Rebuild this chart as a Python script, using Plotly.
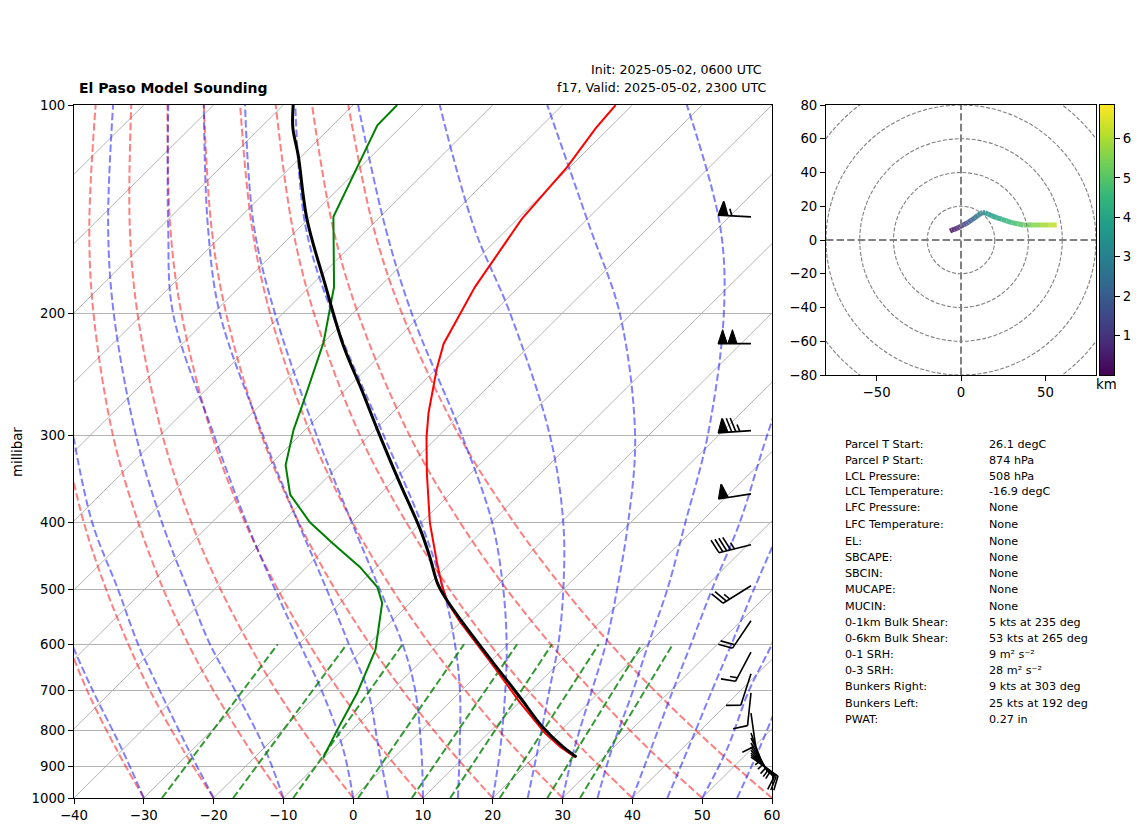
import math
import plotly.graph_objects as go
from plotly.colors import sample_colorscale

# page body margin of the browser
PAD = 8
W = 1142 - PAD
H = 832 - PAD

# ---- sounding, pressure in hPa, temperature in degC
temp_p = [873, 844, 806, 727, 636, 557, 523, 493, 458, 401, 340, 302, 278, 259, 240, 221, 183, 146, 133, 123, 108, 100]
temp_t = [25.9, 22.3, 18.1, 10.0, 0.0, -10.1, -14.6, -18.0, -21.9, -28.7, -36.3, -41.5, -44.8, -47.3, -50.0, -52.6, -56.3, -59.4, -60.0, -60.4, -61.9, -62.4]
dewp_p = [875, 798, 705, 611, 523, 496, 464, 429, 400, 365, 331, 294, 269, 220, 183, 145, 126, 107, 100]
dewp_t = [-10.1, -12.1, -14.6, -18.2, -24.0, -27.0, -32.4, -39.7, -46.0, -52.8, -57.7, -61.7, -64.2, -70.0, -76.5, -86.7, -89.9, -93.6, -93.7]
parcel_p = [873, 844, 790, 715, 636, 557, 514, 490, 449, 410, 351, 294, 258, 222, 180, 146, 118, 108, 100]
parcel_t = [26.1, 22.7, 16.9, 9.3, 0.3, -9.8, -15.7, -18.9, -23.8, -29.1, -38.8, -49.7, -57.6, -66.8, -78.6, -90.2, -100.7, -105.3, -108.6]

# ---- background lines
isotherms = [-140, -130, -120, -110, -100, -90, -80, -70, -60, -50, -40, -30, -20, -10, 0, 10, 20, 30, 40, 50, 60]
guide_levels = [1000, 850, 700, 600, 500, 400, 300, 200, 150, 100]
dry_adiabats = [
    [-30, -41.0, -53.6, -63.0],
    [-20, -31.5, -44.6, -54.4, -65.5, -78.4, -93.8],
    [-10, -21.9, -35.5, -45.8, -57.3, -70.6, -86.7, -107.1, -120.2, -136.9],
    [0, -12.4, -26.5, -37.1, -49.1, -63.0, -79.6, -100.8, -114.4, -131.8],
    [10, -2.9, -17.5, -28.5, -40.9, -55.3, -72.5, -94.5, -108.6, -126.6],
    [20, 6.7, -8.4, -19.8, -32.7, -47.6, -65.4, -88.1, -102.7, -121.4],
    [30, 16.2, 0.6, -11.2, -24.5, -39.9, -58.3, -81.8, -96.9, -116.2],
    [40, 25.8, 9.6, -2.6, -16.3, -32.2, -51.3, -75.5, -91.1, -111.1],
    [50, 35.3, 18.7, 6.1, -8.1, -24.5, -44.2, -69.2, -85.3, -105.9],
    [60, 44.9, 27.7, 14.7, 0.1, -16.8, -37.1, -62.9, -79.5, -100.7],
]
moist_adiabats = [
    [-30, -40.2, -52.8, -62.5],
    [-20, -30.7, -43.2, -53.0, -63.8, -77.2, -92.4],
    [-10, -19.7, -32.4, -42.7, -53.8, -67.2, -83.4, -104.2, -117.5, -134.4],
    [0, -8.5, -20.0, -29.8, -41.3, -55.1, -72.2, -95.7, -108.9, -126.5],
    [5, -3.4, -13.4, -22.8, -33.9, -47.7, -65.2, -89.0, -103.2, -121.4],
    [10, 2.7, -6.6, -15.1, -26.3, -40.0, -57.5, -81.1, -96.6, -115.5],
    [15, 8.2, -0.2, -7.6, -17.2, -30.1, -47.9, -72.9, -89.2, -108.3],
    [20, 14.0, 6.3, -0.2, -8.6, -19.9, -36.7, -61.5, -77.8, -99.3],
    [25, 19.4, 12.6, 7.2, 0.0, -9.7, -24.1, -47.4, -65.1, -87.6],
    [30, 24.6, 18.7, 14.0, 7.7, -0.4, -11.9, -31.7, -48.5, -72.2],
    [35, 30.0, 24.6, 20.1, 14.9, 7.8, -1.5, -16.8, -29.8, -52.2],
    [40, 35.6, 30.3, 26.2, 21.3, 15.6, 7.0, -4.5],
    [45, 40.9, 35.9, 32.0, 27.3, 21.8],
    [50, 46.5, 41.2, 37.8, 33.2],
    [55, 51.1, 46.1],
]
mixing_bottom = [-27.4, -17.2, -8.6, 0.7, 8.4, 13.9, 21.0, 27.8, 32.5]
mixing_top = [-33.0, -23.1, -15.1, -6.3, 1.3, 6.3, 13.0, 19.2, 23.6]

# ---- wind barbs
barb_p = [145, 221, 295, 364, 431, 494, 555, 616, 662, 705, 754, 806, 819, 833, 844, 853, 861, 867, 873]
barb_speed = [65, 100, 85, 60, 45, 25, 20, 15, 10, 10, 10, 5, 5, 5, 5, 5, 10, 10, 15]
barb_dir = [273, 270, 266, 261, 256, 238, 214, 208, 198, 186, 172, 160, 155, 150, 145, 140, 135, 130, 125]

# ---- hodograph
hodo_u = [-6.5, -5.5, -4, -2.6, -1, 0, 1.5, 3, 4.3, 6, 8.3, 10, 11.7, 13, 14.2, 16, 18.2, 21, 24.1, 27, 30, 33.5, 37, 42, 46.8, 52, 56.7]
hodo_v = [5.3, 5.8, 6.3, 6.9, 7.6, 8.3, 9, 9.7, 10.5, 11.7, 13.2, 14.6, 15.8, 16.3, 16.2, 15.4, 14.4, 13.3, 12.3, 11.3, 10.3, 9.6, 8.9, 8.9, 8.9, 8.9, 8.9]
hodo_z = [0.1, 0.3, 0.5, 0.7, 0.9, 1.1, 1.3, 1.6, 1.9, 2.2, 2.5, 2.8, 3.1, 3.3, 3.5, 3.7, 3.9, 4.1, 4.4, 4.6, 4.8, 5.0, 5.3, 5.6, 5.9, 6.2, 6.6]
hodo_rings = [20, 40, 60, 80, 100]
hodo_zmax = 6.85

# ---- text block
table_labels = ["Parcel T Start:", "Parcel P Start:", "LCL Pressure:", "LCL Temperature:", "LFC Pressure:",
                "LFC Temperature:", "EL:", "SBCAPE:", "SBCIN:", "MUCAPE:", "MUCIN:", "0-1km Bulk Shear:",
                "0-6km Bulk Shear:", "0-1 SRH:", "0-3 SRH:", "Bunkers Right:", "Bunkers Left:", "PWAT:"]
table_values = ["26.1 degC", "874 hPa", "508 hPa", "-16.9 degC", "None", "None", "None", "None", "None", "None",
                "None", "5 kts at 235 deg", "53 kts at 265 deg", "9 m\u00b2 s\u207b\u00b2",
                "28 m\u00b2 s\u207b\u00b2", "9 kts at 303 deg", "25 kts at 192 deg", "0.27 in"]
table_rows = [444, 460, 476, 492, 508, 524, 541, 557, 573, 589, 606, 622, 638, 654, 670, 686, 703, 719]

FONT = "DejaVu Sans"


def px(x):
    return (x - PAD) / W


def py(y):
    return 1 - (y - PAD) / H


def skew(t, p):
    return t + 100 * math.log10(1000 / p)


def skew_line(temps, levels):
    return [skew(t, p) for t, p in zip(temps, levels)], list(levels)[:len(temps)]


def barb_paths(p, speed, drct):
    # shaft goes from the root towards where the wind comes from, feathers on its right
    root = 56.99
    length, height, width, gap = 33, 14, 9.3, 4
    a = math.radians(drct)
    along = (math.sin(a), math.cos(a))
    right = (math.cos(a), -math.sin(a))

    def pt(s, h):
        dx = s * along[0] + h * right[0]
        dy = s * along[1] + h * right[1]
        # pressure falls going up the page
        return root + dx / 6.98, p * 10 ** (-dy / 693)

    lines = [pt(0, 0), pt(length, 0), (None, None)]
    flags = []
    pos = length
    n_flag, rest = divmod(speed, 50)
    n_full, rest = divmod(rest, 10)
    for _ in range(n_flag):
        flags += [pt(pos, 0), pt(pos - width / 2, height), pt(pos - width, 0), (None, None)]
        pos -= width + 0.5
    for _ in range(n_full):
        lines += [pt(pos, 0), pt(pos + width / 2, height), (None, None)]
        pos -= gap
    if rest:
        if speed < 10:
            pos -= gap
        lines += [pt(pos, 0), pt(pos + width / 4, height / 2), (None, None)]
    return lines, flags


fig = go.Figure()

# isotherms
for t in isotherms:
    x, y = skew_line([t, t], [1000, 100])
    fig.add_trace(go.Scatter(x=x, y=y, mode="lines", line=dict(color="#b4b4b4", width=1), hoverinfo="skip"))

# dry and moist adiabats
for curves, color in [(dry_adiabats, "rgba(255,0,0,0.5)"), (moist_adiabats, "rgba(0,0,255,0.5)")]:
    for temps in curves:
        x, y = skew_line(temps, guide_levels)
        fig.add_trace(go.Scatter(x=x, y=y, mode="lines", hoverinfo="skip",
                                 line=dict(color=color, width=2, dash="7.4px,3.2px", shape="spline")))

# mixing ratio lines
for t0, t1 in zip(mixing_bottom, mixing_top):
    x, y = skew_line([t0, t1], [1000, 600])
    fig.add_trace(go.Scatter(x=x, y=y, mode="lines", hoverinfo="skip",
                             line=dict(color="rgba(0,128,0,0.8)", width=2, dash="7.4px,3.2px")))

# the profiles
x, y = skew_line(temp_t, temp_p)
fig.add_trace(go.Scatter(x=x, y=y, mode="lines", line=dict(color="red", width=2), hoverinfo="skip"))
x, y = skew_line(dewp_t, dewp_p)
fig.add_trace(go.Scatter(x=x, y=y, mode="lines", line=dict(color="green", width=2), hoverinfo="skip"))
x, y = skew_line(parcel_t, parcel_p)
fig.add_trace(go.Scatter(x=x, y=y, mode="lines", line=dict(color="black", width=3, shape="spline"), hoverinfo="skip"))

# barbs sit on a wider copy of the axes, the lowest ones stick out past the frame
barb_lines, barb_flags = [], []
for p, s, d in zip(barb_p, barb_speed, barb_dir):
    ln, fl = barb_paths(p, s, d)
    barb_lines += ln
    barb_flags += fl
fig.add_trace(go.Scatter(x=[q[0] for q in barb_lines], y=[q[1] for q in barb_lines], mode="lines", xaxis="x4", yaxis="y4",
                         line=dict(color="black", width=1.6), cliponaxis=False, hoverinfo="skip"))
fig.add_trace(go.Scatter(x=[q[0] for q in barb_flags], y=[q[1] for q in barb_flags], mode="lines", fill="toself",
                         xaxis="x4", yaxis="y4", fillcolor="black", line=dict(color="black", width=1), cliponaxis=False,
                         hoverinfo="skip"))

# hodograph, one piece per segment so the colour can follow height
for i in range(len(hodo_u) - 1):
    c = sample_colorscale("Viridis", [hodo_z[i] / hodo_zmax])[0]
    fig.add_trace(go.Scatter(x=hodo_u[i:i + 2], y=hodo_v[i:i + 2], xaxis="x2", yaxis="y2", mode="lines",
                             line=dict(color=c, width=5), opacity=0.85, hoverinfo="skip"))

# colorbar drawn on its own small axes
cbar_steps = [v / 20 for v in range(138)]
fig.add_trace(go.Heatmap(z=[[v] for v in cbar_steps], y=cbar_steps, x=[0], xaxis="x3", yaxis="y3", zmin=0, zmax=hodo_zmax,
                         colorscale="Viridis", showscale=False, hoverinfo="skip"))

shapes = []
for r in hodo_rings:
    shapes.append(dict(type="circle", xref="x2", yref="y2", x0=-r, x1=r, y0=-r, y1=r,
                       line=dict(color="gray", width=1.1, dash="4px,1.8px")))
shapes.append(dict(type="line", xref="x2", yref="y2", x0=-80, x1=80, y0=0, y1=0,
                   line=dict(color="gray", width=2, dash="7.4px,3.2px")))
shapes.append(dict(type="line", xref="x2", yref="y2", x0=0, x1=0, y0=-80, y1=80,
                   line=dict(color="gray", width=2, dash="7.4px,3.2px")))


def label(x, y, text, size=11.2, anchor="left", bold=False, angle=0):
    if bold:
        text = "<b>" + text + "</b>"
    return dict(xref="paper", yref="paper", x=px(x), y=py(y), text=text, showarrow=False, xanchor=anchor,
                yanchor="middle", textangle=angle, font=dict(family=FONT, size=size, color="black"))


annotations = [
    label(77, 88, "El Paso Model Sounding", size=14, bold=True),
    label(764, 70, "Init: 2025-05-02, 0600 UTC", size=12.6, anchor="right"),
    label(768, 88, "f17, Valid: 2025-05-02, 2300 UTC", size=12.6, anchor="right"),
    label(17, 452, "millibar", size=13.3, anchor="center", angle=-90),
    label(1106, 384, "km", size=13.3, anchor="center"),
]
for row, a, b in zip(table_rows, table_labels, table_values):
    annotations.append(label(843, row, a))
    annotations.append(label(987, row, b))

axis_style = dict(showline=True, linecolor="black", linewidth=1, mirror=True, ticks="outside", ticklen=5,
                  tickcolor="black", tickfont=dict(family=FONT, size=13.3, color="black"), zeroline=False)

fig.update_layout(
    width=W, height=H, margin=dict(l=0, r=0, t=0, b=0, autoexpand=False), showlegend=False,
    paper_bgcolor="white", plot_bgcolor="rgba(0,0,0,0)", shapes=shapes, annotations=annotations,
    xaxis=dict(domain=[px(74), px(772)], range=[-40, 60], tickvals=list(range(-40, 61, 10)), showgrid=False, **axis_style),
    yaxis=dict(domain=[py(798), py(105)], type="log", range=[3, 2], tickvals=list(range(100, 1001, 100)),
               ticktext=[str(v) for v in range(100, 1001, 100)], showgrid=True, gridcolor="#b4b4b4", gridwidth=1, **axis_style),
    xaxis2=dict(domain=[px(826), px(1096)], range=[-80, 80], tickvals=[-50, 0, 50], anchor="y2", showgrid=False, **axis_style),
    yaxis2=dict(domain=[py(375), py(105)], range=[-80, 80], tickvals=list(range(-80, 81, 20)), anchor="x2", showgrid=False, **axis_style),
    xaxis3=dict(domain=[px(1100), px(1114)], range=[-0.5, 0.5], anchor="y3", showticklabels=False, ticks="",
                showline=True, linecolor="black", linewidth=1, mirror=True, showgrid=False, zeroline=False),
    yaxis3=dict(domain=[py(375), py(105)], range=[0, hodo_zmax], anchor="x3", side="right", tickvals=[1, 2, 3, 4, 5, 6],
                showgrid=False, **axis_style),
    # same scale as the main axes, 20 px longer to the right
    xaxis4=dict(domain=[px(74), px(792)], range=[-40, 60 + 20 / 6.98], anchor="y4", visible=False),
    yaxis4=dict(domain=[py(798), py(105)], type="log", range=[3, 2], anchor="x4", visible=False),
)

fig.write_html("out.html")
